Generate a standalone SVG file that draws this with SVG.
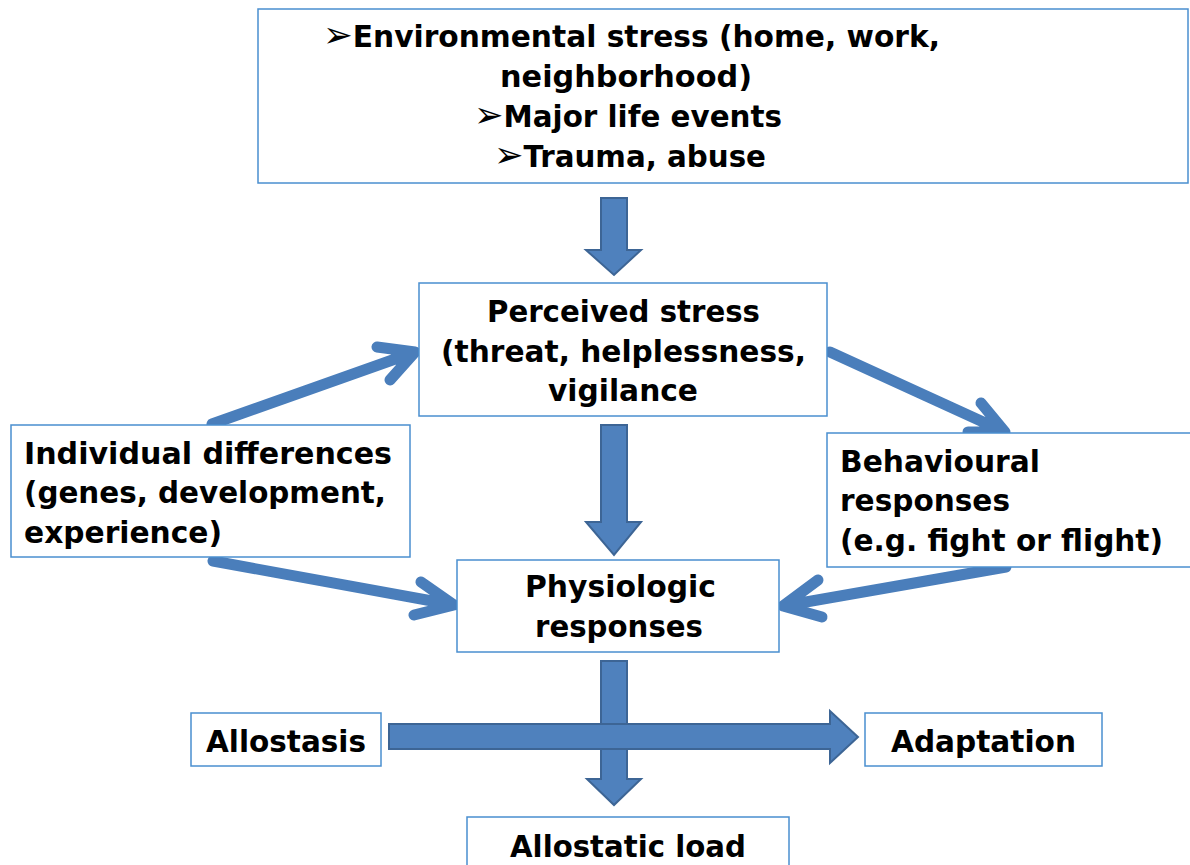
<svg xmlns="http://www.w3.org/2000/svg" width="1190" height="865" viewBox="0 0 1190 865">
<style>
.box{fill:#fff;stroke:#4a8fcf;stroke-width:1.5}
.t{font-family:"DejaVu Sans","Liberation Sans",sans-serif;font-weight:bold;font-size:30px;fill:#000}
.b{font-size:36px;font-weight:normal}
.blk{fill:#4f81bd;stroke:#3d6595;stroke-width:2}
.ln{fill:none;stroke:#4a7ebb;stroke-width:11;stroke-linecap:round;stroke-linejoin:round}
</style>
<rect width="1190" height="865" fill="#fff"/>
<g id="connectors">
<polygon class="blk" points="601,198 627,198 627,250 641,250 614,275 586,250 601,250"/>
<polygon class="blk" points="601,425 627,425 627,522 641,522 614,555 586,522 601,522"/>
<polygon class="blk" points="601,661 627,661 627,779 641,779 614,805 587,779 601,779"/>
<polygon class="blk" points="389,724 830,724 830,711 858,737 830,763 830,749 389,749"/>
<path class="ln" d="M212,424 L415,352 M377,347 L415,352 L390,380"/>
<path class="ln" d="M830,352 L1005,432 M981,403 L1005,432 L968,432"/>
<path class="ln" d="M213,561 L454,605 M421,582 L454,605 L414,615"/>
<path class="ln" d="M1006,567 L783,606 M818,580 L783,606 L822,617"/>
</g>
<g id="env">
<rect class="box" x="258" y="9" width="930" height="174"/>
<text class="t" x="323" y="47" textLength="617" lengthAdjust="spacingAndGlyphs"><tspan class="b">➢</tspan>Environmental stress (home, work,</text>
<text class="t" x="500" y="87" textLength="252" lengthAdjust="spacingAndGlyphs">neighborhood)</text>
<text class="t" x="474" y="127" textLength="308" lengthAdjust="spacingAndGlyphs"><tspan class="b">➢</tspan>Major life events</text>
<text class="t" x="494" y="167" textLength="272" lengthAdjust="spacingAndGlyphs"><tspan class="b">➢</tspan>Trauma, abuse</text>
</g>
<g id="perceived">
<rect class="box" x="419" y="283" width="408" height="133"/>
<text class="t" x="487" y="322" textLength="273" lengthAdjust="spacingAndGlyphs">Perceived stress</text>
<text class="t" x="441" y="362" textLength="365" lengthAdjust="spacingAndGlyphs">(threat, helplessness,</text>
<text class="t" x="548" y="401" textLength="150" lengthAdjust="spacingAndGlyphs">vigilance</text>
</g>
<g id="individual">
<rect class="box" x="11" y="425" width="399" height="132"/>
<text class="t" x="24" y="464" textLength="368" lengthAdjust="spacingAndGlyphs">Individual differences</text>
<text class="t" x="24" y="503" textLength="362" lengthAdjust="spacingAndGlyphs">(genes, development,</text>
<text class="t" x="24" y="543" textLength="198" lengthAdjust="spacingAndGlyphs">experience)</text>
</g>
<g id="behavioural">
<rect class="box" x="827" y="433" width="370" height="134"/>
<text class="t" x="840" y="472" textLength="200" lengthAdjust="spacingAndGlyphs">Behavioural</text>
<text class="t" x="840" y="511" textLength="170" lengthAdjust="spacingAndGlyphs">responses</text>
<text class="t" x="840" y="551" textLength="323" lengthAdjust="spacingAndGlyphs">(e.g. fight or flight)</text>
</g>
<g id="physiologic">
<rect class="box" x="457" y="560" width="322" height="92"/>
<text class="t" x="525" y="597" textLength="191" lengthAdjust="spacingAndGlyphs">Physiologic</text>
<text class="t" x="535" y="637" textLength="168" lengthAdjust="spacingAndGlyphs">responses</text>
</g>
<g id="allostasis">
<rect class="box" x="191" y="713" width="190" height="53"/>
<text class="t" x="206" y="752" textLength="160" lengthAdjust="spacingAndGlyphs">Allostasis</text>
</g>
<g id="adaptation">
<rect class="box" x="865" y="713" width="237" height="53"/>
<text class="t" x="891" y="752" textLength="185" lengthAdjust="spacingAndGlyphs">Adaptation</text>
</g>
<g id="allostatic-load">
<rect class="box" x="467" y="817" width="322" height="60"/>
<text class="t" x="510" y="857" textLength="236" lengthAdjust="spacingAndGlyphs">Allostatic load</text>
</g>
</svg>
